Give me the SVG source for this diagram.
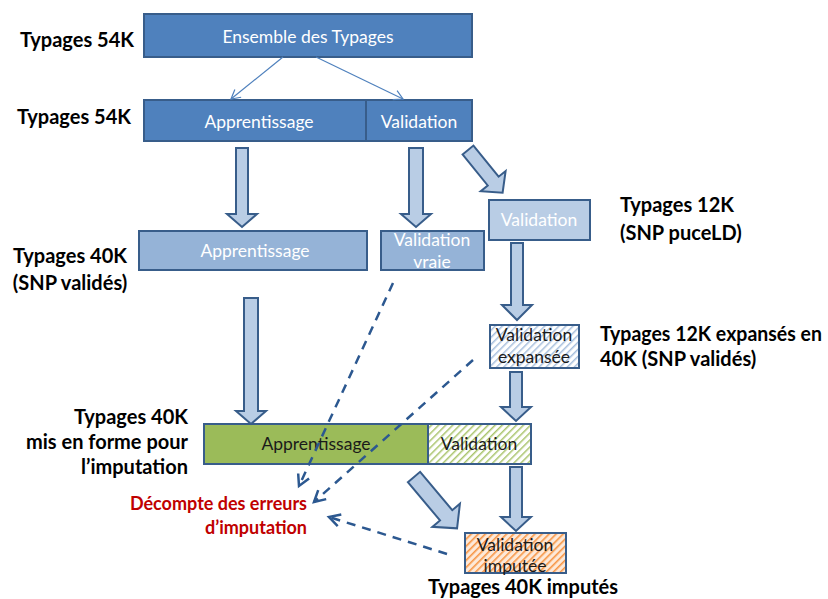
<svg xmlns="http://www.w3.org/2000/svg" width="828" height="599" viewBox="0 0 828 599">
<defs>
<style>
.box{stroke:#385D8A;stroke-width:2}
.dark{fill:#4F81BD}
.mid{fill:#95B3D7}
.light{fill:#B9CDE5}
.green{fill:#9BBB59}
.wt{font-family:Lato,"Open Sans",sans-serif;font-size:17.5px;fill:#FFFFFF;text-anchor:middle}
.bt{font-family:Lato,"Open Sans",sans-serif;font-size:17.5px;fill:#1A1A1A;text-anchor:middle}
.lbl{font-family:Lato,"Open Sans",sans-serif;font-size:20px;font-weight:bold;fill:#000000}
.red{font-family:Lato,"Open Sans",sans-serif;font-size:18px;font-weight:bold;fill:#C00000;text-anchor:end}
.blk{fill:#B9CDE5;stroke:#385D8A;stroke-width:2;stroke-linejoin:miter}
.thin{stroke:#4F81BD;stroke-width:1.2;fill:none}
.dash{stroke:#2C5890;stroke-width:2.5;fill:none;stroke-dasharray:9 7}
</style>
<pattern id="hb" width="5" height="5" patternUnits="userSpaceOnUse" patternTransform="rotate(45)">
<rect width="5" height="5" fill="#FFFFFF"/><rect width="1.5" height="5" fill="#A7BFDD"/>
</pattern>
<pattern id="hg" width="5" height="5" patternUnits="userSpaceOnUse" patternTransform="rotate(45)">
<rect width="5" height="5" fill="#FFFFFF"/><rect width="1.5" height="5" fill="#A9C46C"/>
</pattern>
<pattern id="ho" width="5" height="5" patternUnits="userSpaceOnUse" patternTransform="rotate(45)">
<rect width="5" height="5" fill="#FDE9D9"/><rect width="1.6" height="5" fill="#F79646"/>
</pattern>
<marker id="ao" markerWidth="12" markerHeight="12" refX="10" refY="6" orient="auto" markerUnits="userSpaceOnUse">
<path d="M1,1 L10,6 L1,11" fill="none" stroke="#4F81BD" stroke-width="1.2"/>
</marker>
<marker id="ad" markerWidth="16" markerHeight="16" refX="13" refY="8" orient="auto" markerUnits="userSpaceOnUse">
<path d="M2,2 L13,8 L2,14" fill="none" stroke="#2C5890" stroke-width="2.5"/>
</marker>
</defs>

<g id="labels">
<text class="lbl" x="20" y="47">Typages 54K</text>
<text class="lbl" x="17" y="124">Typages 54K</text>
<text class="lbl" x="70" y="263" text-anchor="middle">Typages 40K</text>
<text class="lbl" x="70" y="290" text-anchor="middle">(SNP validés)</text>
<text class="lbl" x="620" y="212">Typages 12K</text>
<text class="lbl" x="620" y="240">(SNP puceLD)</text>
<text class="lbl" x="600" y="341" textLength="222" lengthAdjust="spacingAndGlyphs">Typages 12K expansés en</text>
<text class="lbl" x="600" y="366">40K (SNP validés)</text>
<text class="lbl" x="188" y="424" text-anchor="end">Typages 40K</text>
<text class="lbl" x="188" y="449" text-anchor="end">mis en forme pour</text>
<text class="lbl" x="188" y="474" text-anchor="end">l’imputation</text>
<text class="red" x="307" y="510">Décompte des erreurs</text>
<text class="red" x="307" y="534">d’imputation</text>
<text class="lbl" x="523" y="594" text-anchor="middle">Typages 40K imputés</text>
</g>

<g id="ensemble">
<rect class="box dark" x="144" y="14" width="328" height="43"/>
<text class="wt" x="308" y="43">Ensemble des Typages</text>
</g>
<g id="apprentissage54">
<rect class="box dark" x="144" y="100" width="222" height="41"/>
<text class="wt" x="259" y="128">Apprentissage</text>
</g>
<g id="validation54">
<rect class="box dark" x="366" y="100" width="106" height="41"/>
<text class="wt" x="419" y="128">Validation</text>
</g>
<g id="apprentissage40">
<rect class="box mid" x="139" y="231" width="228" height="39"/>
<text class="wt" x="255" y="257">Apprentissage</text>
</g>
<g id="validationvraie">
<rect class="box mid" x="381" y="231" width="103" height="39"/>
<text class="wt" x="432" y="246">Validation</text>
<text class="wt" x="432" y="268">vraie</text>
</g>
<g id="validation12">
<rect class="box light" x="489" y="200" width="101" height="40"/>
<text class="wt" x="539" y="226">Validation</text>
</g>
<g id="validationexpansee">
<rect class="box" fill="url(#hb)" x="490" y="325" width="89" height="43"/>
<text class="bt" x="534" y="341">Validation</text>
<text class="bt" x="534" y="363">expansée</text>
</g>
<g id="apprentissageimput">
<rect class="box green" x="204" y="424" width="224" height="40"/>
<text class="bt" x="316" y="450">Apprentissage</text>
</g>
<g id="validationimput">
<rect class="box" fill="url(#hg)" x="428" y="424" width="103" height="40"/>
<text class="bt" x="479" y="450">Validation</text>
</g>
<g id="validationimputee">
<rect class="box" fill="url(#ho)" x="465" y="533" width="101" height="40"/>
<text class="bt" x="515" y="551">Validation</text>
<text class="bt" x="515" y="572">imputée</text>
</g>

<g id="connectors">
<line class="thin" x1="283" y1="57" x2="231" y2="99" marker-end="url(#ao)"/>
<line class="thin" x1="316" y1="57" x2="403" y2="99" marker-end="url(#ao)"/>
<path class="blk" d="M236,148 L248,148 L248,214 L257,214 L242,227 L227,214 L236,214 Z"/>
<path class="blk" d="M409,148 L423,148 L423,214 L431,214 L416,227 L401,214 L409,214 Z"/>
<path class="blk" transform="translate(468,150) rotate(-39)" d="M-7,0 L7,0 L7,40 L16,40 L0,55 L-16,40 L-7,40 Z"/>
<path class="blk" d="M511,243 L523,243 L523,305 L532,305 L517,320 L502,305 L511,305 Z"/>
<path class="blk" d="M244,298 L258,298 L258,411 L266,411 L251,424 L236,411 L244,411 Z"/>
<path class="blk" d="M510,372 L522,372 L522,407 L531,407 L516,421 L501,407 L510,407 Z"/>
<path class="blk" d="M510,467 L522,467 L522,517 L531,517 L516,531 L501,517 L510,517 Z"/>
<path class="blk" transform="translate(414,477) rotate(-40)" d="M-8,0 L8,0 L8,50 L18,50 L0,67 L-18,50 L-8,50 Z"/>
<line class="dash" x1="393" y1="283" x2="299" y2="486" marker-end="url(#ad)"/>
<line class="dash" x1="473" y1="360" x2="314" y2="502" marker-end="url(#ad)"/>
<line class="dash" x1="447" y1="554" x2="329" y2="517" marker-end="url(#ad)"/>
</g>
</svg>
